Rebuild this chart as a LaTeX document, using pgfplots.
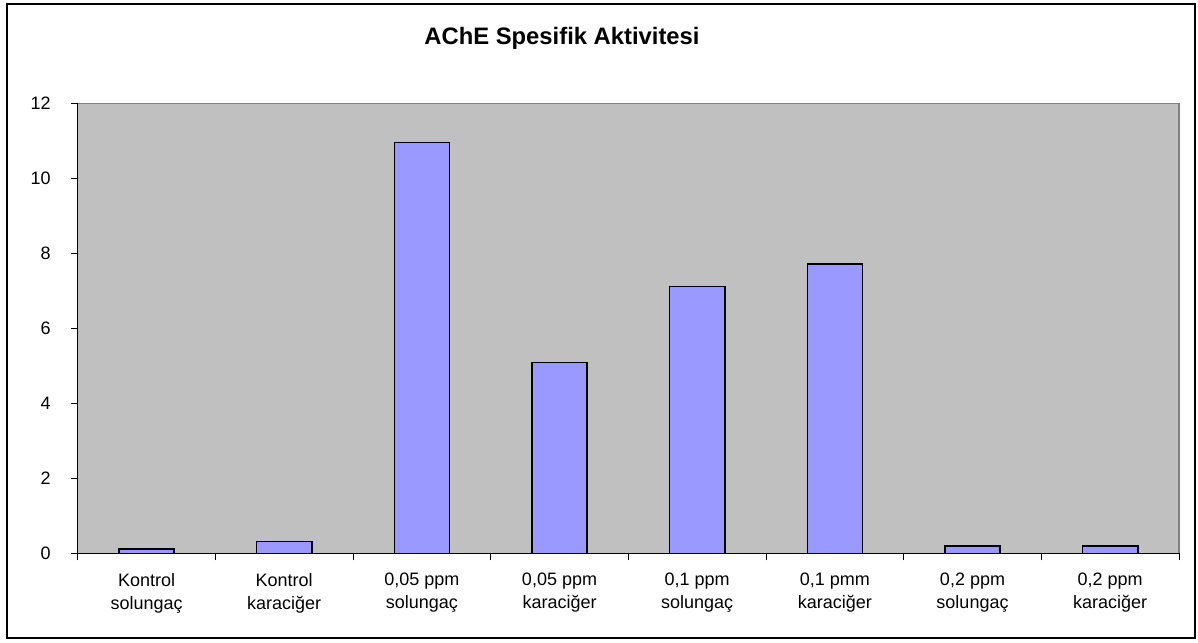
\documentclass[border=0pt]{standalone}
\usepackage{fontspec}
\setmainfont{Liberation Sans}
\usepackage{pgfplots}
\pgfplotsset{compat=1.18}
\definecolor{plotbg}{HTML}{C0C0C0}
\definecolor{barfill}{HTML}{9999FF}
\definecolor{frameg}{HTML}{808080}
\begin{document}
\begin{tikzpicture}
% page extent and chart frame
\path[use as bounding box] (-38.85pt,-44.35pt) rectangle (560.15pt,276.65pt);
\draw[black, line width=0.6pt] (-35.35pt,-42.35pt) rectangle (558.65pt,274.65pt);
\node[font=\bfseries\fontsize{11.9}{14}\selectfont] at (242.15pt,257.65pt) {AChE Spesifik Aktivitesi};
\begin{axis}[
  at={(0pt,0pt)}, anchor=south west,
  scale only axis, width=550.65pt, height=225pt,
  axis lines*=left,
  axis line style={black, line width=0.6pt},
  axis background/.style={fill=plotbg, draw=frameg, line width=0.6pt},
  xmin=-0.5, xmax=7.5, ymin=0, ymax=12,
  ytick={0,2,...,12},
  xtick={-0.5,0.5,...,7.5}, xticklabels={},
  extra x ticks={0,1,2,3,4,5,6,7},
  extra x tick labels={{Kontrol\\solungaç},{Kontrol\\karaciğer},{0,05 ppm\\solungaç},{0,05 ppm\\karaciğer},{0,1 ppm\\solungaç},{0,1 pmm\\karaciğer},{0,2 ppm\\solungaç},{0,2 ppm\\karaciğer}},
  extra x tick style={major tick length=0pt},
  tick align=outside,
  major tick length=3.5pt,
  tick style={black, line width=0.5pt},
  ticklabel style={font=\fontsize{9}{11.35}\selectfont},
  xticklabel style={align=center, yshift=-6.5pt},
  yticklabel style={xshift=-6.5pt},
  /pgf/number format/assume math mode=true,
  ybar, bar width=27.65pt,
]
\addplot[fill=barfill, draw=black, line width=0.7pt] coordinates {
  (0,0.11) (1,0.31) (2,10.95) (3,5.09) (4,7.11) (5,7.71) (6,0.20) (7,0.20)
};
\end{axis}
\end{tikzpicture}
\end{document}
